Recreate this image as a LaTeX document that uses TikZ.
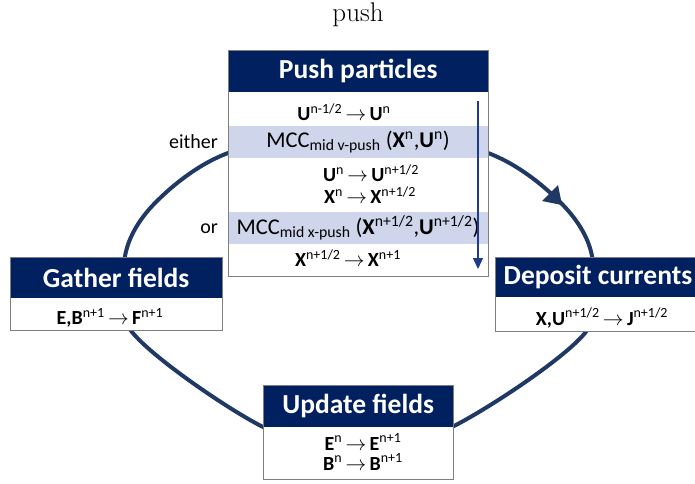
\documentclass[tikz,border=0pt]{standalone}
\usepackage{fontspec}
\newfontfamily\calfont{Carlito}
\usetikzlibrary{arrows.meta}
\definecolor{navy}{HTML}{002060}
\definecolor{ringc}{HTML}{1F3864}
\definecolor{bandc}{HTML}{CFD5EA}
\definecolor{vlinec}{HTML}{1F3C8A}
\definecolor{edgec}{HTML}{7F7F7F}
\newcommand\up[1]{\textsuperscript{\mdseries #1}}
\newcommand\bb[1]{\textbf{#1}}
\newcommand\ar{\,$\rightarrow$\,}
\begin{document}
\begin{tikzpicture}[x=1pt,y=-1pt,
  hdr/.style={fill=navy, text=white, font=\calfont\bfseries\fontsize{27.5}{30}\selectfont, inner sep=0pt, anchor=north west},
  hdrtxt/.style={text=white, font=\calfont\bfseries\fontsize{27.5}{30}\selectfont, inner sep=0pt},
  bodyb/.style={fill=white, inner sep=0pt, anchor=north west},
  frame/.style={draw=edgec, line width=1pt},
  txt/.style={font=\calfont\fontsize{20}{24}\selectfont, inner sep=0pt},
  mcc/.style={font=\calfont\fontsize{22.5}{27}\selectfont, inner sep=0pt},
  ringline/.style={draw=ringc, line width=4pt},
  vline/.style={draw=vlinec, line width=1.3pt, -{Triangle[length=11pt,width=10pt]}}]
\useasboundingbox (0,0) rectangle (695,483);
% ring
\draw[ringline]
  plot[smooth cycle, tension=0.55] coordinates {(358,126) (488,153) (560,202) (592,256) (585,333) (452,427) (358,446) (263,427) (132,332) (125,256) (156,202) (228,153)};
\coordinate (tipA) at (562,205);
\coordinate (tipB) at (542,201);
\coordinate (tipC) at (558,185);
\fill[ringc] (tipA) -- (tipB) -- (tipC) -- cycle;
% title
\node[font=\fontsize{27}{30}\selectfont, inner sep=0pt] (title) at (358,15) {push};
% push box
\node[hdr, minimum width=260pt, minimum height=42pt] (pushH) at (228,50) {Push particles};
\node[bodyb, minimum width=260pt, minimum height=184pt] (pushB) at (228,92) {};
\fill[bandc] (228,126) rectangle (488,158);
\fill[bandc] (228,212) rectangle (488,244);
\draw[frame] (pushH.north west) rectangle (pushB.south east);
\node[txt] (r1) at (344,112) {\bb{U}\up{n-1/2}\ar\bb{U}\up{n}};
\node[mcc] (m1) at (358,142) {MCC\textsubscript{mid v-push} (\bb{X}\up{n},\bb{U}\up{n})};
\node[txt] (r3) at (371,173) {\bb{U}\up{n}\ar\bb{U}\up{n+1/2}};
\node[txt] (r4) at (370,195) {\bb{X}\up{n}\ar\bb{X}\up{n+1/2}};
\node[mcc] (m2) at (358,228) {MCC\textsubscript{mid x-push} (\bb{X}\up{n+1/2},\bb{U}\up{n+1/2})};
\node[txt] (r6) at (348,258) {\bb{X}\up{n+1/2}\ar\bb{X}\up{n+1}};
\coordinate (vs) at (478,101);
\coordinate (ve) at (478,269);
\draw[vline] (vs) -- (ve);
\node[txt, anchor=east] (either) at (218,142) {either};
\node[txt, anchor=east] (or) at (218,229) {or};
% gather box
\node[hdr, minimum width=212pt, minimum height=41pt] (gatH) at (10,257) {Gather fields};
\node[bodyb, minimum width=212pt, minimum height=32pt] (gatB) at (10,298) {};
\draw[frame] (gatH.north west) rectangle (gatB.south east);
\node[txt] (g1) at (110,318) {\bb{E,B}\up{n+1}\ar\bb{F}\up{n+1}};
% deposit box
\node[hdr, minimum width=214pt, minimum height=40pt] (depH) at (495,257) {};
\node[hdrtxt] (depT) at (598,277) {Deposit currents};
\node[bodyb, minimum width=214pt, minimum height=34pt] (depB) at (495,297) {};
\draw[frame] (depH.north west) rectangle (depB.south east);
\node[txt] (d1) at (602,318) {\bb{X,U}\up{n+1/2}\ar\bb{J}\up{n+1/2}};
% update box
\node[hdr, minimum width=190pt, minimum height=42pt] (updH) at (263,385) {Update fields};
\node[bodyb, minimum width=190pt, minimum height=52pt] (updB) at (263,427) {};
\draw[frame] (updH.north west) rectangle (updB.south east);
\node[txt] (u1) at (363,442) {\bb{E}\up{n}\ar\bb{E}\up{n+1}};
\node[txt] (u2) at (363,462) {\bb{B}\up{n}\ar\bb{B}\up{n+1}};
\end{tikzpicture}
\end{document}
